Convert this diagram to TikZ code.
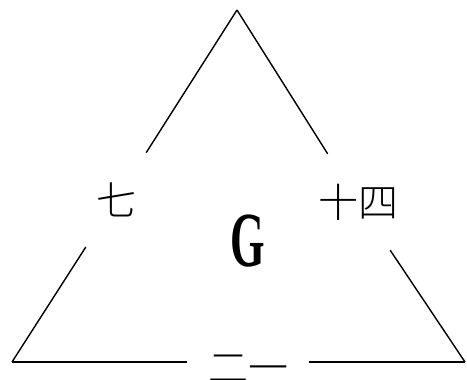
\documentclass[tikz,border=0pt]{standalone}
\usepackage{fontspec}
\newfontfamily\cjk{Noto Sans CJK SC Light}
\setmainfont{Liberation Serif}
\usetikzlibrary{positioning}

\begin{document}
\begin{tikzpicture}[
  x=1pt,y=-1pt,
  side/.style={draw=black,line width=1.4pt},
  lbl/.style={font=\cjk\fontsize{40}{42}\selectfont,inner sep=0pt,minimum width=60pt,minimum height=96pt},
  base/.style={font=\cjk\fontsize{40}{42}\selectfont,inner sep=0pt,minimum width=121pt,minimum height=18pt}
]
\useasboundingbox (0,0) rectangle (467,380);
% corners
\coordinate (apex) at (237,10);
\coordinate (bl) at (12,362);
\coordinate (br) at (465,362);
% side labels
\node[lbl] (seven) at (116,200) {七};
\node[lbl] (fourteen) at (358,202) {十四};
\node[base] (twentyone) at (248,362) {};
\node[font=\cjk\fontsize{40}{42}\selectfont,anchor=north,inner sep=0pt] (twotxt) at (248,355) {二一};
\node[font=\bfseries\fontsize{78}{80}\selectfont,xscale=0.57] (g) at (248,241) {G};

\draw[side] (apex) -- (seven);
\draw[side] (seven) -- (bl);
\draw[side] (apex) -- (fourteen);
\draw[side] (fourteen) -- (br);
\draw[side] (bl) -- (twentyone);
\draw[side] (twentyone) -- (br);
\end{tikzpicture}
\end{document}
